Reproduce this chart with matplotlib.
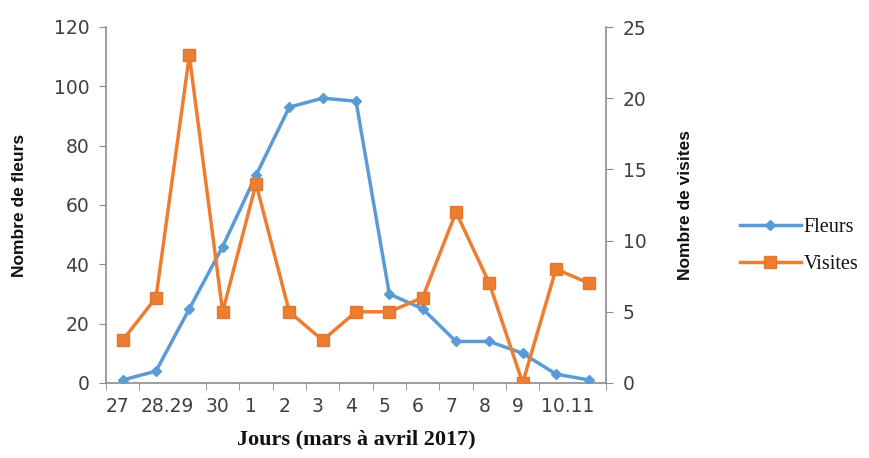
import matplotlib
matplotlib.use("Agg")
import matplotlib.pyplot as plt
import matplotlib.transforms as mtransforms
import numpy as np

# Days of observation (March to April 2017)
days = ["27", "28", "29", "30", "1", "2", "3", "4", "5", "6", "7", "8", "9", "10", "11"]
fleurs = [1, 4, 25, 46, 70, 93, 96, 95, 30, 25, 14, 14, 10, 3, 1]
visites = [3, 6, 23, 5, 14, 5, 3, 5, 5, 6, 12, 7, 0, 8, 7]
tick_labels = ["27", "28.29", "30", "1", "2", "3", "4", "5", "6", "7", "8", "9", "10.11"]

blue = "#5B9BD5"
orange = "#ED7D31"
axis_grey = "#8C8C8C"
text_col = "#404040"

fig = plt.figure(figsize=(8.69, 4.58), dpi=100)
ax = fig.add_axes([106 / 869, 75 / 458, 500 / 869, 356 / 458])
ax2 = ax.twinx()

x = np.arange(len(days))
l1, = ax.plot(x, fleurs, color=blue, lw=2.5, marker="D", ms=5,
              markerfacecolor=blue, markeredgecolor=blue, label="Fleurs", zorder=3)
l2, = ax2.plot(x, visites, color=orange, lw=2.5, marker="s", ms=8,
               markerfacecolor=orange, markeredgecolor="#E0792F", label="Visites", zorder=3)

ax.set_xlim(-0.5, len(days) - 0.5)
ax.set_ylim(0, 120)
ax2.set_ylim(0, 25)
ax.set_yticks(np.arange(0, 121, 20))
ax2.set_yticks(np.arange(0, 26, 5))

# Tick label positions: merged labels sit between their two days
pos = []
for lab in tick_labels:
    parts = lab.split(".")
    pos.append(np.mean([days.index(p) for p in parts]))
ax.set_xticks(pos)
ax.set_xticklabels(tick_labels)
ax.set_xticks(np.arange(-0.5, len(days)), minor=True)
ax.tick_params(axis="x", which="major", length=0, pad=10)
ax.tick_params(axis="x", which="minor", length=5, color=axis_grey, direction="out")
shift = mtransforms.ScaledTranslation(-5 / 100, 0, fig.dpi_scale_trans)
for lbl in ax.get_xticklabels():
    lbl.set_transform(lbl.get_transform() + shift)

for a in (ax, ax2):
    a.spines["top"].set_visible(False)
    for s in ("left", "right", "bottom"):
        a.spines[s].set_color(axis_grey)
        a.spines[s].set_linewidth(1.2)
    a.tick_params(axis="y", length=5, color=axis_grey, labelsize=13.5, labelcolor=text_col, pad=7)
ax.tick_params(axis="x", labelsize=13.5, labelcolor=text_col)
ax.spines["right"].set_visible(False)
ax2.spines["left"].set_visible(False)
ax2.spines["bottom"].set_visible(False)

ax.set_xlabel("Jours (mars à avril 2017)", labelpad=10, family="Liberation Serif",
              weight="bold", size=16, color="#111111")
sans_bold = dict(family="Liberation Sans", weight="bold", size=12.5, color="#111111")
ax.set_ylabel("Nombre de fleurs", labelpad=19, **sans_bold)
ax2.set_ylabel("Nombre de visites", labelpad=23, **sans_bold)

fig.legend(handles=[l1, l2], labels=["Fleurs", "Visites"], loc="center left",
           bbox_to_anchor=(722 / 869, 1 - 246 / 458), frameon=False,
           prop=dict(family="Liberation Serif", size=14.5), handlelength=3.0,
           labelspacing=0.85, handletextpad=0.15, labelcolor="#111111")

fig.savefig("out.png", dpi=100)
